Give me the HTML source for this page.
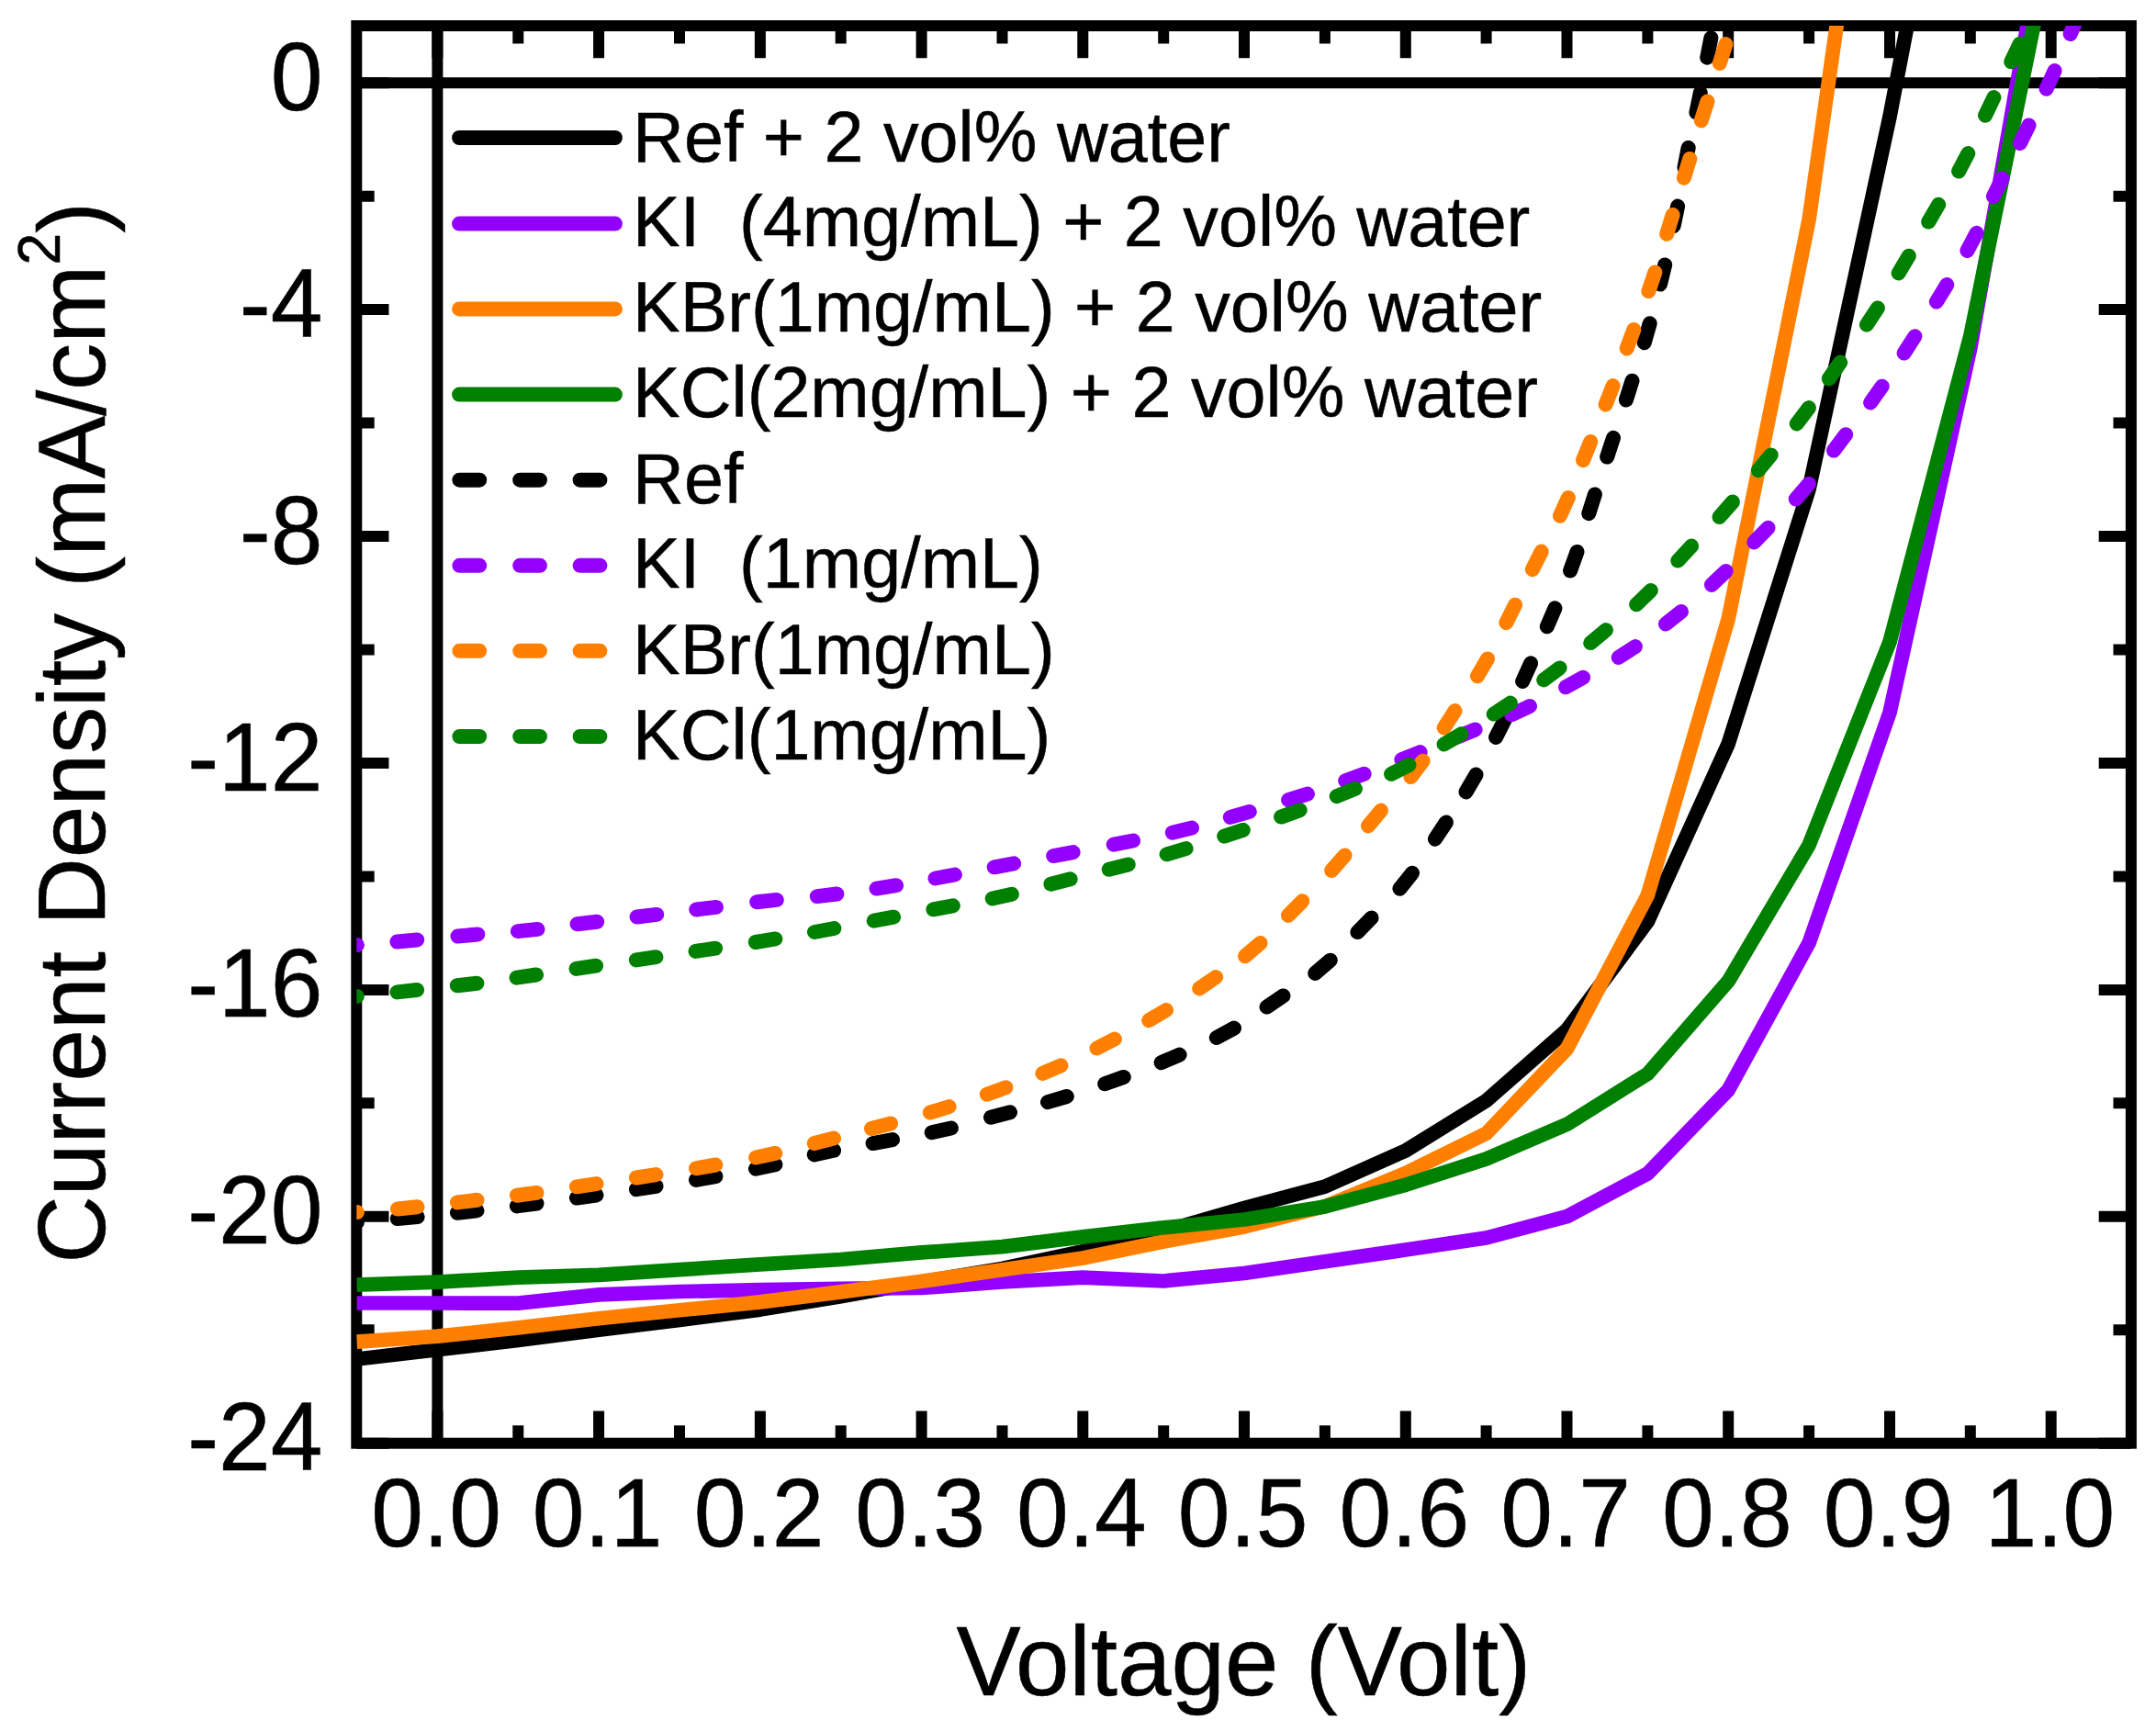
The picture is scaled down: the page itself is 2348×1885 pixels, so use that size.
<!DOCTYPE html>
<html lang="en"><head><meta charset="utf-8"><title>J-V curves</title>
<style>html,body{margin:0;padding:0;background:#fff}svg{display:block}text{font-family:"Liberation Sans",sans-serif;fill:#000;stroke:#000;stroke-width:.5px}</style></head><body>
<svg width="2348" height="1885" viewBox="0 0 2348 1885">
<rect width="2348" height="1885" fill="#fff"/>
<defs><clipPath id="pc"><rect x="388.3" y="28.1" width="1932.6" height="1543.6"/></clipPath></defs>
<g stroke="#000" stroke-width="12" fill="none">
<rect x="388.3" y="28.1" width="1932.6" height="1543.6"/>
<path d="M476.4 28.1 V1571.7 M388.3 90.2 H2320.9"/>
<path d="M476.4 28.1 v35.2 M476.4 1571.7 v-35.2 M564.3 28.1 v19.4 M564.3 1571.7 v-19.4 M652.1 28.1 v35.2 M652.1 1571.7 v-35.2 M740 28.1 v19.4 M740 1571.7 v-19.4 M827.9 28.1 v35.2 M827.9 1571.7 v-35.2 M915.7 28.1 v19.4 M915.7 1571.7 v-19.4 M1003.6 28.1 v35.2 M1003.6 1571.7 v-35.2 M1091.5 28.1 v19.4 M1091.5 1571.7 v-19.4 M1179.3 28.1 v35.2 M1179.3 1571.7 v-35.2 M1267.2 28.1 v19.4 M1267.2 1571.7 v-19.4 M1355 28.1 v35.2 M1355 1571.7 v-35.2 M1442.9 28.1 v19.4 M1442.9 1571.7 v-19.4 M1530.8 28.1 v35.2 M1530.8 1571.7 v-35.2 M1618.6 28.1 v19.4 M1618.6 1571.7 v-19.4 M1706.5 28.1 v35.2 M1706.5 1571.7 v-35.2 M1794.4 28.1 v19.4 M1794.4 1571.7 v-19.4 M1882.2 28.1 v35.2 M1882.2 1571.7 v-35.2 M1970.1 28.1 v19.4 M1970.1 1571.7 v-19.4 M2058 28.1 v35.2 M2058 1571.7 v-35.2 M2145.8 28.1 v19.4 M2145.8 1571.7 v-19.4 M2233.7 28.1 v35.2 M2233.7 1571.7 v-35.2 M388.3 90.2 h35.2 M2320.9 90.2 h-35.2 M388.3 213.7 h19.4 M2320.9 213.7 h-19.4 M388.3 337.1 h35.2 M2320.9 337.1 h-35.2 M388.3 460.6 h19.4 M2320.9 460.6 h-19.4 M388.3 584 h35.2 M2320.9 584 h-35.2 M388.3 707.5 h19.4 M2320.9 707.5 h-19.4 M388.3 831 h35.2 M2320.9 831 h-35.2 M388.3 954.4 h19.4 M2320.9 954.4 h-19.4 M388.3 1077.9 h35.2 M2320.9 1077.9 h-35.2 M388.3 1201.3 h19.4 M2320.9 1201.3 h-19.4 M388.3 1324.8 h35.2 M2320.9 1324.8 h-35.2 M388.3 1448.3 h19.4 M2320.9 1448.3 h-19.4 M388.3 1571.7 h35.2 M2320.9 1571.7 h-35.2"/>
</g>
<g clip-path="url(#pc)" fill="none" stroke-width="16" stroke-linejoin="round">
<path stroke="#000000" stroke-width="15.7" d="M388.5 1480 L476.4 1469.8 L564.3 1459.4 L652.1 1448.3 L740 1437.5 L827.9 1426.1 L915.7 1411.8 L1003.6 1396 L1091.5 1381.4 L1179.3 1362.8 L1267.2 1340.9 L1355 1315.5 L1442.9 1292.1 L1530.8 1253 L1618.6 1198.6 L1706.5 1121.5 L1794.4 1003.4 L1882.2 810 L1970.1 532.6 L2058 127 L2145.8 -330"/>
<path stroke="#9400ff" stroke-width="15.7" d="M388.5 1419 L476.4 1419 L564.3 1419.1 L652.1 1409.9 L740 1406.5 L827.9 1404.6 L915.7 1403.3 L1003.6 1402.5 L1091.5 1396 L1179.3 1391.2 L1267.2 1395 L1355 1386.5 L1442.9 1373.8 L1530.8 1361 L1618.6 1348 L1706.5 1324.7 L1794.4 1278 L1882.2 1187 L1970.1 1026.8 L2058 776 L2145.8 379 L2233.7 -118"/>
<path stroke="#ff8000" stroke-width="15.7" d="M388.5 1461.2 L476.4 1455.1 L564.3 1445.9 L652.1 1435.7 L740 1426.8 L827.9 1417.9 L915.7 1406.9 L1003.6 1395.3 L1091.5 1382.7 L1179.3 1370 L1267.2 1352 L1355 1336 L1442.9 1313.7 L1530.8 1277.5 L1618.6 1234.3 L1706.5 1142 L1794.4 974.8 L1882.2 674 L1970.1 239 L2058 -378"/>
<path stroke="#008000" stroke-width="15.7" d="M388.5 1399.2 L476.4 1396.1 L564.3 1391.1 L652.1 1388.3 L740 1382.6 L827.9 1376.9 L915.7 1371.5 L1003.6 1363.9 L1091.5 1357.6 L1179.3 1346.9 L1267.2 1336.8 L1355 1328 L1442.9 1313.9 L1530.8 1290.3 L1618.6 1262 L1706.5 1224.3 L1794.4 1169.3 L1882.2 1068.4 L1970.1 920.2 L2058 699 L2145.8 366 L2233.7 -65"/>
<path stroke="#000000" stroke-linecap="round" d="M367.1 1333 L388.9 1331 M432.8 1327.1 L454.6 1325.1 M497.9 1320.7 L519.5 1318.3 M562.9 1313.4 L584.5 1310.6 M627.9 1304.5 L649.5 1301.5 M692.9 1295.2 L714.5 1291.8 M758 1284.9 L779.4 1281.1 M823 1272.8 L844.4 1268.2 M886.7 1257.4 L908.1 1252.8 M950.6 1245.1 L972 1241.1 M1014.7 1233.3 L1035.9 1228.5 M1079 1216.8 L1100 1211.2 M1141 1200.2 L1161.8 1194 M1203.2 1180.3 L1223.8 1172.9 M1264.6 1157.2 L1284.6 1148.6 M1324.8 1130 L1344 1119.6 M1379.5 1096.6 L1397.5 1084.4 M1432.2 1059.9 L1448.8 1045.7 M1478.4 1015.1 L1493.6 999.5 M1524.4 967.7 L1538 950.7 M1562.9 913.7 L1574.9 895.5 M1596.5 862.4 L1607.5 843.6 M1629.1 802.9 L1638.9 783.5 M1658.1 742 L1667.1 722.2 M1684.8 682.3 L1693.4 662.3 M1710.1 621.5 L1717.5 600.9 M1730.3 559.2 L1736.9 538.4 M1750.2 497.6 L1757 476.8 M1770.9 435.5 L1777.5 414.7 M1790.7 373.2 L1796.7 352.2 M1808 309.6 L1813.2 288.4 M1822.7 246 L1827.1 224.6 M1834.5 182.3 L1838.7 160.9 M1847.4 122.5 L1851.8 101.1 M1859.2 62.7 L1863.4 41.3 M1870.9 2.7 L1875.1 -18.7"/>
<path stroke="#9400ff" stroke-linecap="round" d="M367.1 1030.9 L388.9 1029.1 M432.4 1025.5 L454.2 1023.5 M498.5 1019.5 L520.3 1017.5 M563.9 1014.1 L585.5 1011.9 M628.6 1006.3 L650.2 1003.7 M693.6 998.5 L715.2 995.9 M758.3 990.5 L779.9 987.9 M824.2 982.3 L845.8 979.9 M889.8 976.1 L911.4 973.5 M954.5 967.6 L976.1 964.2 M1018.5 956.5 L1039.9 952.5 M1082.7 944.3 L1104.1 940.3 M1147.2 932.1 L1168.6 928.1 M1212.7 919.7 L1234.1 915.5 M1276.8 906.7 L1298 901.5 M1339.8 889.9 L1360.8 883.9 M1403.1 871.2 L1423.9 864.6 M1465.2 850.2 L1485.6 842.8 M1526.4 827.1 L1546.6 819.1 M1586.4 802.9 L1606.6 794.5 M1646.2 778.3 L1666 769.1 M1705.1 748.3 L1724.1 737.7 M1762.7 715.9 L1780.9 704.1 M1814 679.6 L1831 666 M1864 636.9 L1879.8 621.9 M1910.3 590.4 L1925.5 574.8 M1955.7 543.5 L1969.9 526.9 M1997 490.6 L2010.2 473.2 M2037.1 438.5 L2049.7 420.7 M2073.6 384.6 L2085.4 366.2 M2108.9 328.6 L2120.3 310 M2142.4 273 L2152.6 253.8 M2170.9 214 L2180.5 194.4 M2199.9 156 L2209.5 136.4 M2228.6 96.8 L2237.6 77 M2254.7 37 L2263.3 17"/>
<path stroke="#ff8000" stroke-linecap="round" d="M367.1 1321.9 L388.9 1320.1 M432.9 1316.5 L454.5 1314.3 M497.9 1309.4 L519.5 1306.8 M562.9 1301.7 L584.5 1298.9 M627.9 1292.3 L649.5 1289.1 M692.9 1282.5 L714.5 1279.1 M758 1272.3 L779.4 1268.5 M823.1 1260.5 L844.3 1255.9 M886.8 1245 L908 1239.6 M949 1229 L970 1223.4 M1012.8 1211.5 L1033.6 1205.1 M1074.8 1191.7 L1095.4 1184.3 M1135.4 1168.9 L1155.4 1160.3 M1194.5 1141.5 L1213.9 1131.5 M1251.2 1111.2 L1270 1100 M1306.2 1076.4 L1324.2 1064 M1356 1041.2 L1372.6 1027 M1402.9 996.9 L1418.3 981.3 M1450.2 947.9 L1464.6 931.5 M1490 899.4 L1504 882.6 M1536.4 846.1 L1549.6 828.7 M1572.7 792.5 L1584.5 774.1 M1609 736.3 L1620 717.5 M1640.3 678.1 L1650.1 658.7 M1668.9 620.2 L1678.7 600.6 M1698.9 561.8 L1707.9 542 M1724 501.2 L1732.2 481 M1748.6 440.5 L1756.6 420.1 M1771.7 379.4 L1779.3 359 M1795.4 317.1 L1802.4 296.5 M1815.2 254.8 L1821.6 234 M1833.9 193.7 L1840.3 172.9 M1852.8 131.3 L1859.4 110.5 M1872.8 68.9 L1879.4 48.1 M1892.7 6.4 L1899.3 -14.4"/>
<path stroke="#008000" stroke-linecap="round" d="M367.2 1087.1 L388.8 1084.9 M432.5 1080.4 L454.1 1078 M497.8 1073.3 L519.4 1070.7 M562.5 1064.7 L584.1 1061.5 M627.5 1054.9 L649.1 1051.7 M692.8 1045.4 L714.4 1042.2 M757.5 1035.9 L779.1 1032.7 M822.8 1026 L844.4 1022.4 M887 1015 L908.4 1011 M951.7 1002.7 L973.1 998.7 M1016.4 990.3 L1037.8 986.3 M1080.7 978.5 L1101.9 973.7 M1144.4 962.7 L1165.6 957.3 M1207.7 946.8 L1228.7 941.4 M1270.6 930.3 L1291.6 924.1 M1333.2 910.6 L1353.8 903.8 M1395.1 889.6 L1415.7 882.2 M1455.7 867.1 L1475.9 858.9 M1515.1 842.8 L1534.5 833 M1572.6 810.5 L1591.4 799.3 M1626.7 777.6 L1644.9 765.6 M1681.2 740.4 L1698.6 727.4 M1732.2 700.1 L1749 686.1 M1782.1 658.3 L1797.9 643.1 M1827.3 610.6 L1842.1 594.6 M1872.5 563 L1886.9 546.6 M1914.9 512.2 L1928.7 495.4 M1956.7 461.5 L1969.9 444.1 M1991.8 412.4 L2004.2 394.6 M2032.9 353.6 L2044.9 335.4 M2067.6 297.5 L2078.8 278.7 M2100.2 241.6 L2111.2 222.8 M2133.1 186.5 L2143.3 167.1 M2162 125.7 L2171.4 106.1 M2190.3 67.3 L2199.7 47.7 M2218.3 8.8 L2227.7 -10.8"/>
</g>
<g fill="none" stroke-width="16" stroke-linecap="round">
<path stroke="#000000" d="M500.1 150 H669.9"/>
<path stroke="#9400ff" d="M500.1 243.6 H669.9"/>
<path stroke="#ff8000" d="M500.1 336.4 H669.9"/>
<path stroke="#008000" d="M500.1 429.6 H669.9"/>
<path stroke="#000000" d="M500.4 522.7 h21.8 M566.2 522.7 h21.8 M631.6 522.7 h21.8"/>
<path stroke="#9400ff" d="M500.4 615.8 h21.8 M566.2 615.8 h21.8 M631.6 615.8 h21.8"/>
<path stroke="#ff8000" d="M500.4 708.8 h21.8 M566.2 708.8 h21.8 M631.6 708.8 h21.8"/>
<path stroke="#008000" d="M500.4 802 h21.8 M566.2 802 h21.8 M631.6 802 h21.8"/>
</g>
<g font-size="77.3">
<text x="689.1" y="175.8">Ref + 2 vol% water</text>
<text x="689.1" y="267.6">KI  (4mg/mL) + 2 vol% water</text>
<text x="689.1" y="361.3">KBr(1mg/mL) + 2 vol% water</text>
<text x="689.1" y="453.8">KCl(2mg/mL) + 2 vol% water</text>
<text x="689.1" y="548.2">Ref</text>
<text x="689.1" y="640.3">KI  (1mg/mL)</text>
<text x="689.1" y="734">KBr(1mg/mL)</text>
<text x="689.1" y="826.6">KCl(1mg/mL)</text>
</g>
<g font-size="103.5" text-anchor="middle">
<text transform="translate(475 1683.5) scale(0.985 1.02)">0.0</text>
<text transform="translate(650.7 1683.5) scale(0.985 1.02)">0.1</text>
<text transform="translate(826.5 1683.5) scale(0.985 1.02)">0.2</text>
<text transform="translate(1002.2 1683.5) scale(0.985 1.02)">0.3</text>
<text transform="translate(1177.9 1683.5) scale(0.985 1.02)">0.4</text>
<text transform="translate(1353.6 1683.5) scale(0.985 1.02)">0.5</text>
<text transform="translate(1529.4 1683.5) scale(0.985 1.02)">0.6</text>
<text transform="translate(1705.1 1683.5) scale(0.985 1.02)">0.7</text>
<text transform="translate(1880.8 1683.5) scale(0.985 1.02)">0.8</text>
<text transform="translate(2056.6 1683.5) scale(0.985 1.02)">0.9</text>
<text transform="translate(2232.3 1683.5) scale(0.985 1.02)">1.0</text>
</g>
<g font-size="103.5" text-anchor="end">
<text transform="translate(351.5 119.7) scale(0.985 1.02)">0</text>
<text transform="translate(351.5 366.6) scale(0.985 1.02)">-4</text>
<text transform="translate(351.5 613.5) scale(0.985 1.02)">-8</text>
<text transform="translate(351.5 860.5) scale(0.985 1.02)">-12</text>
<text transform="translate(351.5 1107.4) scale(0.985 1.02)">-16</text>
<text transform="translate(351.5 1354.3) scale(0.985 1.02)">-20</text>
<text transform="translate(351.5 1601.2) scale(0.985 1.02)">-24</text>
</g>
<text transform="translate(1354.4 1846.3) scale(1 1.024)" font-size="105.2" text-anchor="middle">Voltage (Volt)</text>
<text transform="translate(114.2 1375.8) rotate(-90) scale(1 1.02)" font-size="101.9">Current Density (mA/cm<tspan font-size="63" dy="-48.5">2</tspan><tspan dy="48.5">)</tspan></text>
</svg></body></html>
